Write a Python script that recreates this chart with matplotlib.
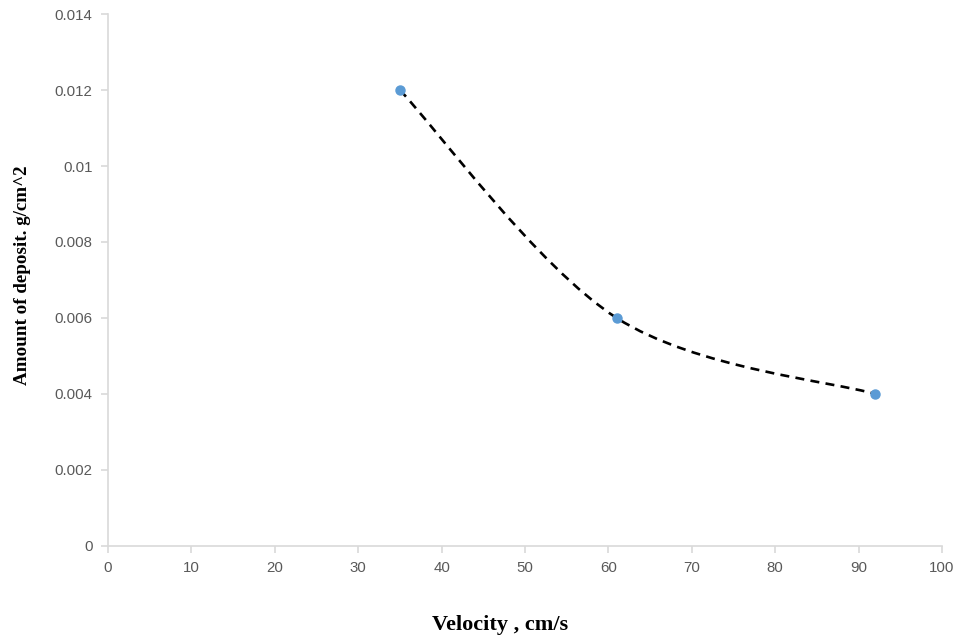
import numpy as np
import matplotlib
matplotlib.use("Agg")
import matplotlib.pyplot as plt
from matplotlib.path import Path
from matplotlib.patches import PathPatch

# data
velocity = [35, 61, 92]
deposit = [0.012, 0.006, 0.004]

x_ticks = [0, 10, 20, 30, 40, 50, 60, 70, 80, 90, 100]
y_ticks = [0, 0.002, 0.004, 0.006, 0.008, 0.01, 0.012, 0.014]
y_tick_labels = ["0", "0.002", "0.004", "0.006", "0.008", "0.01", "0.012", "0.014"]

X_MAX = 100
Y_MAX = 0.014

fig = plt.figure(figsize=(9.59, 6.43), dpi=100)
ax = fig.add_axes([0.1126, 0.1509, 0.8697, 0.8273])


def smooth_path(xs, ys):
    # Excel-like smoothed line: cubic bezier with catmull-rom tangents (in normalised space)
    p = np.column_stack([np.array(xs) / X_MAX, np.array(ys) / Y_MAX])
    n = len(p)
    verts = [p[0]]
    codes = [Path.MOVETO]
    for i in range(n - 1):
        prev_pt = p[i - 1] if i > 0 else p[i]
        next_pt = p[i + 2] if i + 2 < n else p[i + 1]
        c1 = p[i] + (p[i + 1] - prev_pt) / 6
        c2 = p[i + 1] - (next_pt - p[i]) / 6
        verts += [c1, c2, p[i + 1]]
        codes += [Path.CURVE4] * 3
    verts = np.array(verts) * [X_MAX, Y_MAX]
    return Path(verts, codes)


curve = PathPatch(smooth_path(velocity, deposit), fill=False, edgecolor="black",
                  linewidth=1.9, linestyle=(0, (3.4, 2.4)), zorder=2)
ax.add_patch(curve)
ax.plot(velocity, deposit, "o", color="#5B9BD5", markersize=6.5, zorder=3)

ax.set_xlim(0, X_MAX)
ax.set_ylim(0, Y_MAX)
ax.set_xticks(x_ticks)
ax.set_yticks(y_ticks)
ax.set_yticklabels(y_tick_labels)

for side in ["top", "right"]:
    ax.spines[side].set_visible(False)
for side in ["left", "bottom"]:
    ax.spines[side].set_color("#D9D9D9")
    ax.spines[side].set_linewidth(1.2)

ax.tick_params(axis="both", direction="out", length=5, width=1.2, color="#D9D9D9",
               labelcolor="#595959", labelsize=10.8, pad=6)
for lab in ax.get_xticklabels() + ax.get_yticklabels():
    lab.set_family("Liberation Sans")

fig.text(0.521, 0.028, "Velocity , cm/s", ha="center", va="center",
         family="Liberation Serif", fontweight="bold", fontsize=16)
fig.text(0.023, 0.572, "Amount of deposit. g/cm^2", ha="center", va="center",
         rotation=90, family="Liberation Serif", fontweight="bold", fontsize=13.7)

fig.savefig("out.png", dpi=100)
